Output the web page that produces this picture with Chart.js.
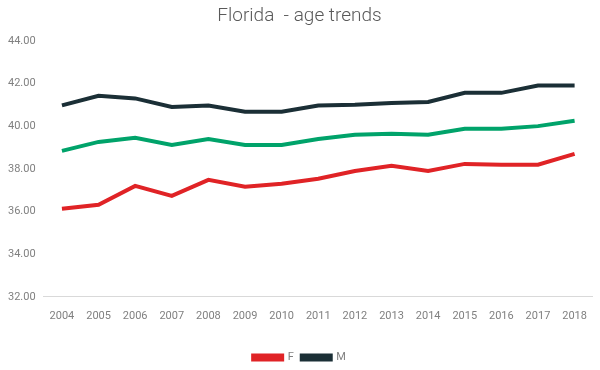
<!DOCTYPE html>
<html>
<head>
<meta charset="utf-8">
<script src="https://cdn.jsdelivr.net/npm/chart.js@4/dist/chart.umd.min.js"></script>
<style>
  html, body { margin: 0; padding: 0; background: #fff; }
  #wrap { width: 600px; height: 370px; }
</style>
</head>
<body>
<div id="wrap"><canvas id="chart" width="600" height="370"></canvas></div>
<script>
const years = ['2004','2005','2006','2007','2008','2009','2010','2011','2012','2013','2014','2015','2016','2017','2018'];
const female = [36.13, 36.31, 37.2, 36.73, 37.48, 37.16, 37.3, 37.53, 37.9, 38.14, 37.9, 38.23, 38.19, 38.19, 38.7];
const male   = [40.97, 41.42, 41.3, 40.9, 40.97, 40.67, 40.67, 40.97, 41.0, 41.08, 41.13, 41.56, 41.56, 41.9, 41.9];
const total  = [38.84, 39.26, 39.45, 39.12, 39.4, 39.12, 39.12, 39.4, 39.6, 39.64, 39.6, 39.88, 39.88, 40.0, 40.25];
const yTicks = [32, 34, 36, 38, 40, 42, 44];

const red = '#e02326';
const dark = '#1b2f36';
const green = '#00a36a';

Chart.defaults.font.family = 'Roboto, sans-serif';
Chart.defaults.color = '#808080';

let ctx = document.getElementById('chart');
new Chart(ctx, {
    type: 'line',
    data: {
        labels: years,
        datasets: [
            { label: 'F', data: female, borderColor: red, backgroundColor: red, borderWidth: 4, pointRadius: 0, tension: 0 },
            { label: 'M', data: male, borderColor: dark, backgroundColor: dark, borderWidth: 4, pointRadius: 0, tension: 0 },
            { label: 'Total', data: total, borderColor: green, backgroundColor: green, borderWidth: 4, pointRadius: 0, tension: 0 }
        ]
    },
    options: {
        responsive: false,
        animation: false,
        layout: { padding: { left: 0, right: 1, top: 5, bottom: -3 } },
        plugins: {
            title: {
                display: true,
                text: 'Florida  - age trends',
                color: '#595959',
                font: { size: 19, weight: 300 },
                padding: { top: 0, bottom: 13 }
            },
            legend: {
                position: 'bottom',
                labels: {
                    boxWidth: 29,
                    boxHeight: 4,
                    padding: 8,
                    font: { size: 11 },
                    filter: item => item.text !== 'Total'
                }
            },
            tooltip: { enabled: false }
        },
        scales: {
            x: {
                offset: true,
                grid: { display: false, drawTicks: false },
                border: { display: true, color: '#d9d9d9', width: 1 },
                ticks: { padding: 13, maxRotation: 0, autoSkip: false, font: { size: 11 } },
                // extra room between the year labels and the legend
                afterFit: axis => { axis.height += 8; }
            },
            y: {
                min: yTicks[0],
                max: yTicks[yTicks.length - 1],
                afterBuildTicks: axis => { axis.ticks = yTicks.map(v => ({ value: v })); },
                grid: { display: false, drawTicks: false },
                border: { display: false },
                ticks: { padding: 8, font: { size: 11 }, callback: v => v.toFixed(2) }
            }
        }
    }
});
</script>
</body>
</html>
